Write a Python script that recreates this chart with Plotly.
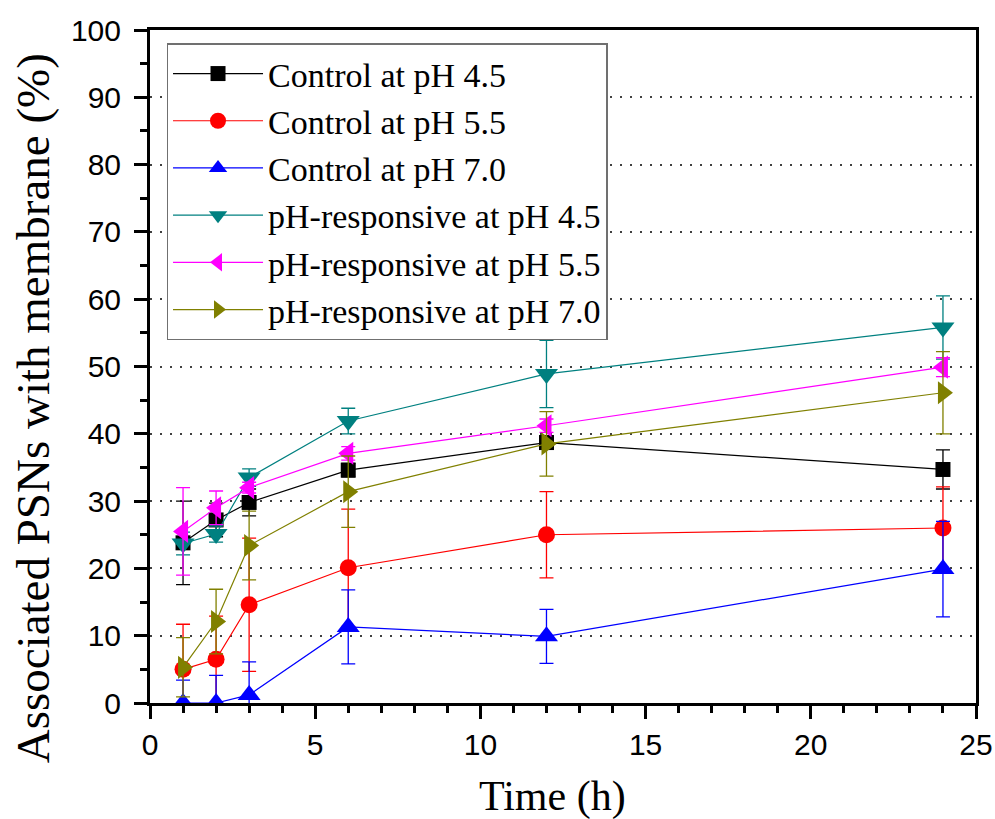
import plotly.graph_objects as go

time_h = [1, 2, 3, 6, 12, 24]

series_names = [
    "Control at pH 4.5",
    "Control at pH 5.5",
    "Control at pH 7.0",
    "pH-responsive at pH 4.5",
    "pH-responsive at pH 5.5",
    "pH-responsive at pH 7.0",
]

ctrl_45 = [23.8, 27.2, 29.8, 34.6, 38.7, 34.7]
ctrl_45_err = [6.2, 2.5, 2.0, 1.0, 1.0, 2.9]

ctrl_55 = [5.0, 6.5, 14.6, 20.1, 25.0, 26.0]
ctrl_55_err = [6.7, 6.4, 9.9, 8.7, 6.4, 6.1]

ctrl_70 = [0.0, 0.0, 1.2, 11.3, 9.9, 19.9]
ctrl_70_err = [3.4, 4.1, 4.9, 5.5, 4.0, 7.1]

resp_45 = [23.7, 25.1, 33.5, 41.9, 48.9, 55.8]
resp_45_err = [1.7, 1.2, 1.3, 1.9, 5.0, 4.7]

resp_55 = [25.5, 29.0, 32.0, 37.1, 41.2, 49.9]
resp_55_err = [6.5, 2.5, 0.8, 1.0, 1.0, 1.4]

resp_70 = [5.3, 12.1, 23.4, 31.4, 38.5, 46.1]
resp_70_err = [4.4, 4.8, 5.1, 5.3, 4.8, 6.1]

y_ticks = [0, 10, 20, 30, 40, 50, 60, 70, 80, 90, 100]
x_ticks = [0, 5, 10, 15, 20, 25]

values = [ctrl_45, ctrl_55, ctrl_70, resp_45, resp_55, resp_70]
errors = [ctrl_45_err, ctrl_55_err, ctrl_70_err, resp_45_err, resp_55_err, resp_70_err]
colors = ["#000000", "#FF0000", "#0000FF", "#008080", "#FF00FF", "#808000"]
symbols = ["square", "circle", "triangle-up", "triangle-down", "triangle-left", "triangle-right"]
sizes = [15, 17, 20, 20, 20, 20]

fig = go.Figure()
for name, vals, errs, col, sym, sz in zip(series_names, values, errors, colors, symbols, sizes):
    fig.add_trace(go.Scatter(
        x=time_h, y=vals, name=name, mode="lines+markers",
        line=dict(color=col, width=1.2),
        marker=dict(symbol=sym, size=sz, color=col, line=dict(width=0)),
        error_y=dict(type="data", array=errs, visible=True, color=col,
                     thickness=1.3, width=7),
    ))

fig.update_layout(
    width=995, height=819,
    margin=dict(l=150, r=19, t=30, b=116),
    plot_bgcolor="white", paper_bgcolor="white",
    showlegend=True,
    legend=dict(
        x=0.02, y=0.98, xanchor="left", yanchor="top",
        bgcolor="white", bordercolor="#707070", borderwidth=1.5,
        font=dict(family="Liberation Serif", size=34, color="black"),
        itemwidth=90, tracegroupgap=0,
    ),
    font=dict(family="Liberation Sans", color="black"),
)

fig.update_xaxes(
    range=[0, 25], tickvals=x_ticks, ticktext=[str(v) for v in x_ticks],
    automargin=False,
    showline=True, linecolor="black", linewidth=3, mirror=True,
    ticks="outside", ticklen=13, tickwidth=2.5, tickcolor="black",
    tickfont=dict(family="Liberation Sans", size=30, color="black"),
    minor=dict(dtick=1, tick0=0, ticks="outside", ticklen=7, tickwidth=2.5, tickcolor="black", showgrid=False),
    showgrid=False, zeroline=False,
)
fig.update_yaxes(
    range=[0, 100], tickvals=y_ticks, ticktext=[str(v) for v in y_ticks],
    automargin=False,
    showline=True, linecolor="black", linewidth=3, mirror=True,
    ticks="outside", ticklen=13, tickwidth=2.5, tickcolor="black",
    tickfont=dict(family="Liberation Sans", size=30, color="black"),
    ticklabelstandoff=7,
    minor=dict(dtick=5, tick0=0, ticks="outside", ticklen=7, tickwidth=2.5, tickcolor="black", showgrid=False),
    showgrid=True, gridcolor="#404040", gridwidth=1.5, griddash="2px,8px",
    zeroline=False,
)

fig.add_annotation(
    text="Time (h)", xref="paper", yref="paper", x=0.487, y=-0.1395,
    xanchor="center", yanchor="middle", showarrow=False,
    font=dict(family="Liberation Serif", size=42, color="black"),
)
fig.add_annotation(
    text="Associated PSNs with membrane (%)", xref="paper", yref="paper",
    x=-0.1416, y=0.438, xanchor="center", yanchor="middle", showarrow=False,
    textangle=-90,
    font=dict(family="Liberation Serif", size=47, color="black"),
)

fig.write_html(
    "out.html",
    config={"displayModeBar": False},
    post_script="document.body.style.margin='0';document.body.style.overflow='hidden';",
)
